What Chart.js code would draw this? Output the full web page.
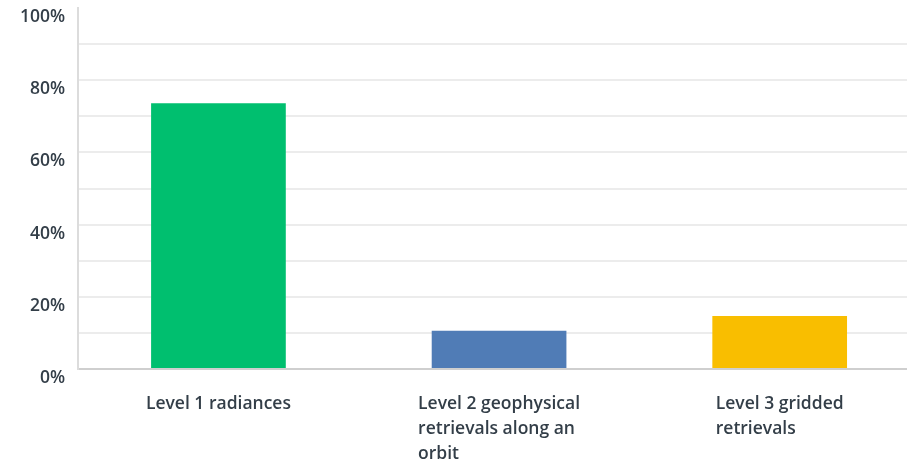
<!DOCTYPE html>
<html>
<head>
<meta charset="utf-8">
<script src="https://cdn.jsdelivr.net/npm/chart.js@4.4.1/dist/chart.umd.min.js"></script>
<style>
  html, body { margin: 0; padding: 0; background: #fff; overflow: hidden; }
  #wrap { width: 920px; height: 461px; position: relative; }
</style>
</head>
<body>
<div id="wrap"><canvas id="chart"></canvas></div>
<script>
// answers, percent of respondents
const categories = [
    ['Level 1 radiances'],
    ['Level 2 geophysical', 'retrievals along an', 'orbit'],
    ['Level 3 gridded', 'retrievals']
];
const values = [73.6, 10.6, 14.7];
const barColors = ['#00bf6f', '#507cb6', '#f9be00'];

const textColor = '#333e48';
const labelFont = '600 17.5px "Open Sans"';

// x labels: lines left aligned, block centred under the bar
const blockLabels = {
    id: 'blockLabels',
    afterDraw(chart) {
        const ctx = chart.ctx;
        const xs = chart.scales.x;
        const top = chart.chartArea.bottom + 35;
        ctx.save();
        ctx.font = labelFont;
        ctx.fillStyle = textColor;
        ctx.textAlign = 'left';
        ctx.textBaseline = 'middle';
        categories.forEach((lines, i) => {
            const cx = xs.getPixelForValue(i);
            const w = Math.max(...lines.map(l => ctx.measureText(l).width));
            lines.forEach((l, j) => {
                ctx.fillText(l, cx - w / 2, top + j * 25);
            });
        });
        ctx.restore();
    }
};

new Chart(document.getElementById('chart'), {
    type: 'bar',
    data: {
        labels: categories,
        datasets: [{
            label: 'answers',
            data: values,
            backgroundColor: barColors,
            barPercentage: 0.48,
            categoryPercentage: 1
        }]
    },
    options: {
        responsive: true,
        maintainAspectRatio: false,
        animation: false,
        layout: { padding: { left: 7, top: 8, right: 0, bottom: 92 } },
        plugins: {
            legend: { display: false },
            tooltip: { enabled: false }
        },
        scales: {
            x: {
                grid: { display: false, drawTicks: false },
                border: { color: '#cfcfcf', width: 2 },
                ticks: { display: false }
            },
            y: {
                min: 0,
                max: 100,
                afterFit(scale) {
                    scale.paddingTop = 0;
                    scale.paddingBottom = 0;
                },
                grid: {
                    drawTicks: false,
                    color: ctx => ctx.tick && ctx.tick.value === 100 ? 'transparent' : '#ececec',
                    lineWidth: 2
                },
                border: { color: '#dcdcdc', width: 2 },
                ticks: {
                    stepSize: 10,
                    padding: 13,
                    labelOffset: 9,
                    color: textColor,
                    font: { family: 'Open Sans', size: 17.5, weight: '600' },
                    callback: v => v % 20 === 0 ? v + '%' : ''
                }
            }
        }
    },
    plugins: [blockLabels]
});
</script>
</body>
</html>
